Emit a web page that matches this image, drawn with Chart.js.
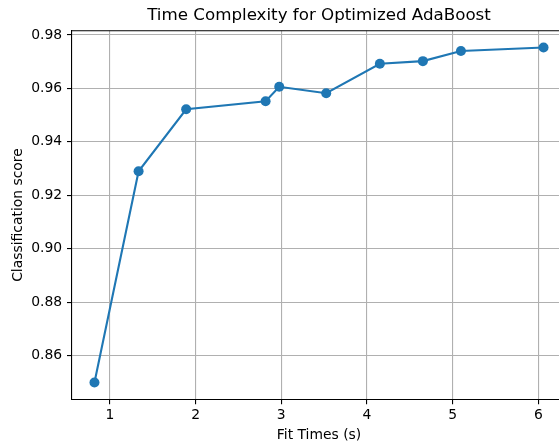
<!DOCTYPE html>
<html>
<head>
<meta charset="utf-8">
<script src="https://cdn.jsdelivr.net/npm/chart.js@4/dist/chart.umd.min.js"></script>
<style>
  html, body { margin: 0; padding: 0; background: #fff; overflow: hidden; width: 559px; height: 448px; }
  #wrap { width: 638px; height: 448px; }
</style>
</head>
<body>
<div id="wrap"><canvas id="c" width="638" height="448"></canvas></div>
<script>
// Fit time (s) and classification score for each AdaBoost configuration
const fitTimes = [0.82, 1.335, 1.89, 2.817, 2.976, 3.524, 4.15, 4.652, 5.096, 6.06];
const scores   = [0.8500, 0.9290, 0.9522, 0.9552, 0.9606, 0.9582, 0.9692, 0.9702, 0.9740, 0.9753];
const xTicks = [1, 2, 3, 4, 5, 6];
const yTicks = [0.86, 0.88, 0.90, 0.92, 0.94, 0.96, 0.98];

// 5% margin around the data range on both axes
function padded(vals) {
  const lo = Math.min(...vals), hi = Math.max(...vals), m = (hi - lo) * 0.05;
  return [lo - m, hi + m];
}
const [xMin, xMax] = padded(fitTimes);
const [yMin, yMax] = padded(scores);

const FONT = "'DejaVu Sans', 'Liberation Sans', sans-serif";
const BLUE = '#1f77b4';

// centre the title over the plot area, and draw the top/right frame lines
const frame = {
  id: 'frame',
  afterLayout(chart) {
    const t = chart.titleBlock, a = chart.chartArea;
    if (t) { t.left = a.left; t.right = a.right; t.width = a.right - a.left; }
  },
  afterDraw(chart) {
    const { ctx, chartArea: a } = chart;
    ctx.save();
    ctx.strokeStyle = '#000';
    ctx.lineWidth = 1.1;
    ctx.beginPath();
    ctx.moveTo(a.left, a.top);
    ctx.lineTo(a.right, a.top);
    ctx.lineTo(a.right, a.bottom);
    ctx.stroke();
    ctx.restore();
  }
};

new Chart(document.getElementById('c'), {
  type: 'scatter',
  data: {
    datasets: [{
      data: fitTimes.map((x, i) => ({ x, y: scores[i] })),
      showLine: true,
      borderColor: BLUE,
      backgroundColor: BLUE,
      borderWidth: 2.1,
      pointRadius: 5,
      pointHoverRadius: 5,
      pointBorderWidth: 0,
      tension: 0
    }]
  },
  options: {
    responsive: false,
    animation: false,
    events: [],
    layout: { padding: { left: 0, right: 72, top: 0, bottom: 0 } },
    plugins: {
      legend: { display: false },
      tooltip: { enabled: false },
      title: {
        display: true,
        text: 'Time Complexity for Optimized AdaBoost',
        color: '#000',
        font: { family: FONT, size: 16.7, weight: 'normal', lineHeight: 1.2 },
        padding: { top: 6, bottom: 4.7 }
      }
    },
    scales: {
      x: {
        type: 'linear',
        min: xMin,
        max: xMax,
        afterBuildTicks(s) { s.ticks = xTicks.map(v => ({ value: v })); },
        afterFit(s) { s.height = 48.7; },
        ticks: {
          color: '#000',
          font: { family: FONT, size: 13.9 },
          padding: 3,
          maxRotation: 0,
          callback: v => String(v)
        },
        grid: { color: '#b0b0b0', lineWidth: 1.1, tickColor: '#000', tickLength: 5, tickWidth: 1.1 },
        border: { color: '#000', width: 1.1 },
        title: {
          display: true,
          text: 'Fit Times (s)',
          color: '#000',
          font: { family: FONT, size: 13.9, lineHeight: 1.2 },
          padding: { top: 0, bottom: 4.4 }
        }
      },
      y: {
        type: 'linear',
        min: yMin,
        max: yMax,
        afterBuildTicks(s) { s.ticks = yTicks.map(v => ({ value: v })); },
        afterFit(s) { s.width = 72; },
        ticks: {
          color: '#000',
          font: { family: FONT, size: 13.9 },
          padding: 4.9,
          callback: v => v.toFixed(2)
        },
        grid: { color: '#b0b0b0', lineWidth: 1.1, tickColor: '#000', tickLength: 5, tickWidth: 1.1 },
        border: { color: '#000', width: 1.1 },
        title: {
          display: true,
          text: 'Classification score',
          color: '#000',
          font: { family: FONT, size: 13.9, lineHeight: 1.2 },
          padding: { top: 9.7, bottom: 0 }
        }
      }
    }
  },
  plugins: [frame]
});
</script>
</body>
</html>
